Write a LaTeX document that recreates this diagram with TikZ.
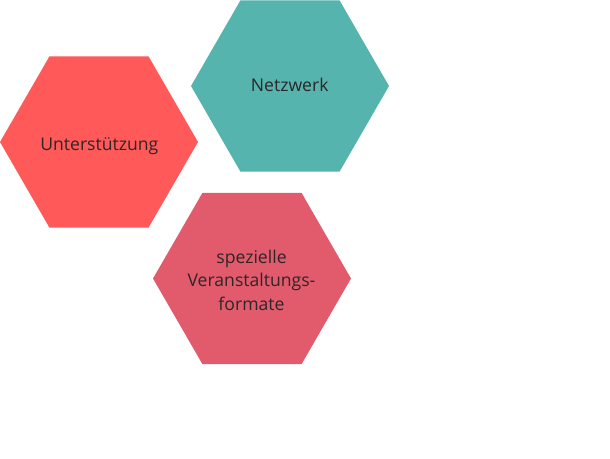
\documentclass[tikz,border=0pt]{standalone}
\usepackage{fontspec}
\setmainfont{Open Sans}
\usetikzlibrary{shapes.geometric}
\definecolor{hexred}{RGB}{255,89,89}
\definecolor{hexteal}{RGB}{86,180,174}
\definecolor{hexrose}{RGB}{226,91,108}
\definecolor{txt}{RGB}{45,38,40}
\tikzset{
  hexa/.style={regular polygon, regular polygon sides=6, shape border rotate=0,
    minimum size=198pt, inner sep=0pt, draw=none},
  hextext/.style={inner sep=0pt, text=txt, align=center,
    font=\fontsize{17.6}{23.5}\selectfont},
}
\begin{document}
\begin{tikzpicture}[x=1pt,y=-1pt]
\useasboundingbox (0,0) rectangle (610,458);
\node[hexa, fill=hexred] (unter) at (99,142) {};
\node[hexa, fill=hexteal] (netz) at (290,86) {};
\node[hexa, fill=hexrose] (spez) at (252,278.5) {};
\node[hextext, anchor=base] (untert) at (99.3,150.3) {Unterstützung};
\node[hextext, anchor=base] (netzt) at (289.7,91.2) {Netzwerk};
\node[hextext] (spezt) at (251.5,280) {spezielle\\Veranstaltungs-\\formate};
\end{tikzpicture}
\end{document}
